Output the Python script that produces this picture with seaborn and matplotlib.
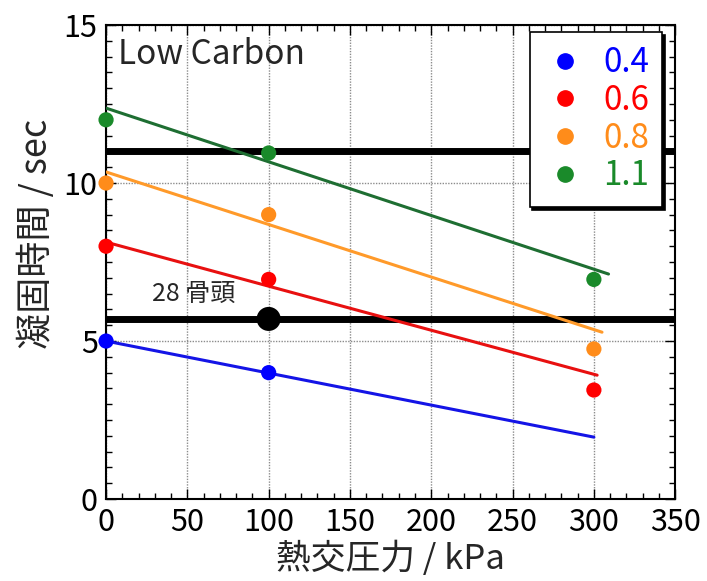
import matplotlib
matplotlib.use("Agg")
import matplotlib.pyplot as plt
from matplotlib.lines import Line2D
from matplotlib.ticker import MultipleLocator
import pandas as pd
import seaborn as sns

# carbon content series (legend labels) and their colours
carbon = ["0.4", "0.6", "0.8", "1.1"]
point_colors = ["#0000ff", "#ff0000", "#ff8c1a", "#1a8a2a"]
line_colors = ["#1414e6", "#e81010", "#ff9a2a", "#1e6e32"]

# measured points: pressure (kPa) / solidification time (sec)
x_04 = [0, 100]
y_04 = [5.0, 4.0]
x_06 = [0, 100, 300]
y_06 = [8.0, 6.95, 3.45]
x_08 = [0, 100, 300]
y_08 = [10.0, 9.0, 4.75]
x_11 = [0, 100, 300]
y_11 = [12.0, 10.95, 6.95]

# trend lines (start / end)
fit_x_04 = [0, 300]
fit_y_04 = [5.0, 1.96]
fit_x_06 = [0, 302]
fit_y_06 = [8.13, 3.92]
fit_x_08 = [0, 305]
fit_y_08 = [10.35, 5.28]
fit_x_11 = [0, 309]
fit_y_11 = [12.37, 7.12]

# black reference lines and the marked point
ref_levels = [11.0, 5.7]
mark_x = [100]
mark_y = [5.7]
mark_label = "28 骨頭"

pts = pd.concat([
    pd.DataFrame({"pressure": x, "time": y, "carbon": c})
    for x, y, c in zip([x_04, x_06, x_08, x_11], [y_04, y_06, y_08, y_11], carbon)
])
fits = pd.concat([
    pd.DataFrame({"pressure": x, "time": y, "carbon": c})
    for x, y, c in zip([fit_x_04, fit_x_06, fit_x_08, fit_x_11],
                       [fit_y_04, fit_y_06, fit_y_08, fit_y_11], carbon)
])

sns.set_style("ticks")
plt.rcParams["font.family"] = ["Noto Sans CJK JP", "DejaVu Sans"]

fig, ax = plt.subplots(figsize=(7.07, 5.81), dpi=100)
fig.subplots_adjust(left=0.150, right=0.955, bottom=0.141, top=0.957)

for level in ref_levels:
    ax.axhline(level, color="black", lw=5, zorder=2)

sns.lineplot(data=fits, x="pressure", y="time", hue="carbon",
             palette=dict(zip(carbon, line_colors)), estimator=None,
             lw=2.2, legend=False, ax=ax, zorder=3)
sns.scatterplot(data=pts, x="pressure", y="time", hue="carbon",
                palette=dict(zip(carbon, point_colors)), s=120,
                edgecolor="none", legend=False, ax=ax, zorder=4, clip_on=False)
sns.scatterplot(x=mark_x, y=mark_y, color="black", s=300, edgecolor="none",
                legend=False, ax=ax, zorder=4)
ax.text(28, 6.5, mark_label, fontsize=18, va="center")
ax.text(0.021, 0.975, "Low Carbon", transform=ax.transAxes, fontsize=24, va="top")

ax.set_xlim(0, 350)
ax.set_ylim(0, 15)
ax.xaxis.set_major_locator(MultipleLocator(50))
ax.xaxis.set_minor_locator(MultipleLocator(10))
ax.yaxis.set_major_locator(MultipleLocator(5))
ax.yaxis.set_minor_locator(MultipleLocator(0.5))
ax.tick_params(which="both", direction="in", top=True, right=True,
               labelsize=22, width=1, colors="black")
ax.tick_params(which="major", length=7, pad=6)
ax.tick_params(which="minor", length=4)
ax.grid(which="major", color="#8c8c8c", ls=(0, (1, 1)), lw=1)
for sp in ax.spines.values():
    sp.set_linewidth(1.5)
    sp.set_color("black")

ax.set_xlabel("熱交圧力 / kPa", fontsize=25, labelpad=2)
ax.set_ylabel("凝固時間 / sec", fontsize=26)
ax.yaxis.set_label_coords(-0.09, 0.56)

handles = [Line2D([], [], marker="o", ls="", color=c, markersize=11) for c in point_colors]
leg = ax.legend(handles, carbon, loc="upper right", bbox_to_anchor=(0.977, 0.985),
                borderaxespad=0, fontsize=24, frameon=True, fancybox=False,
                edgecolor="black", framealpha=1, shadow={"color": "black", "alpha": 1},
                handlelength=1.3, handletextpad=0.5, labelspacing=0.08, borderpad=0.4)
leg.get_frame().set_linewidth(1.2)
for t, c in zip(leg.get_texts(), point_colors):
    t.set_color(c)

plt.savefig("out.png", dpi=100)
